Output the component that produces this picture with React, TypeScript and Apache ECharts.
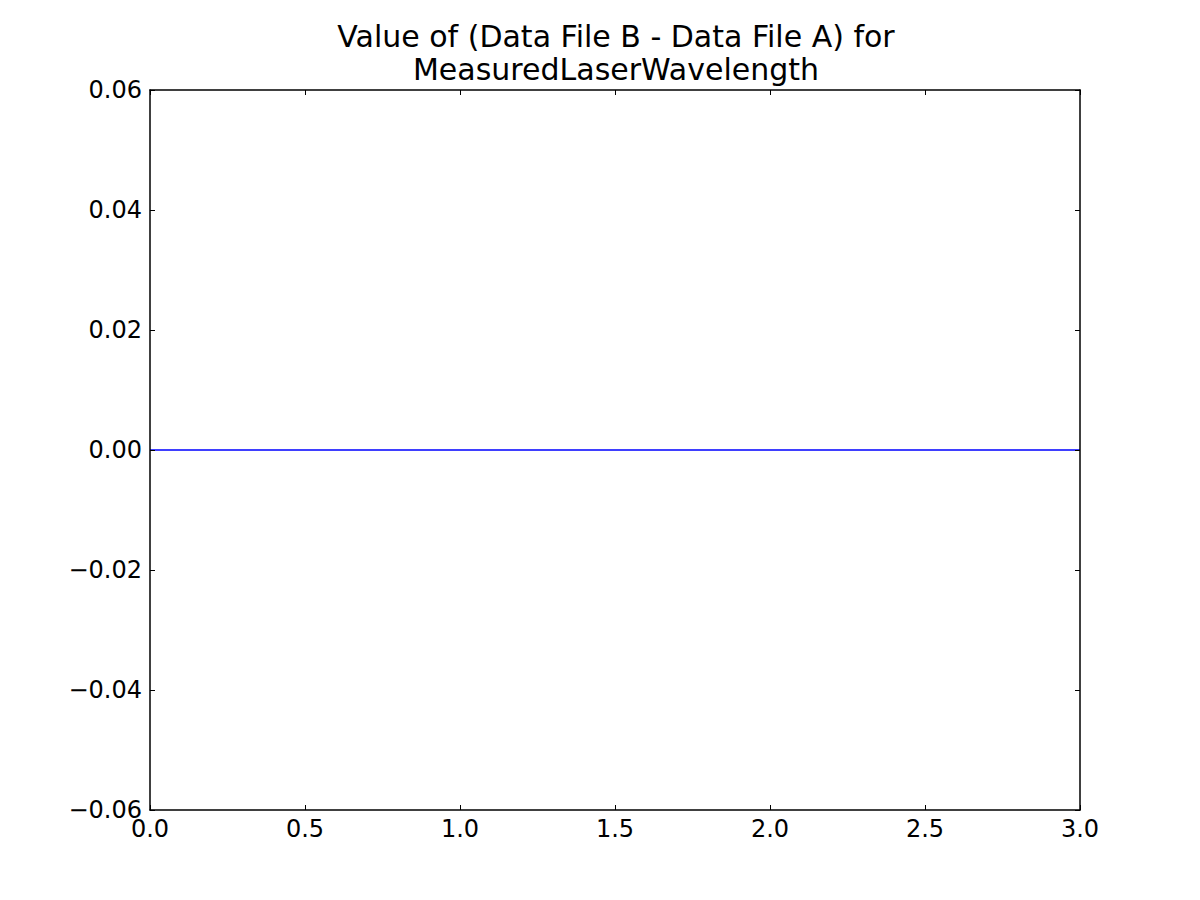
import React, { useEffect, useRef } from "react";
import * as echarts from "echarts";

const xValues = [0, 1, 2, 3];
const yValues = [0, 0, 0, 0];
const titleLines = ["Value of (Data File B - Data File A) for", "MeasuredLaserWavelength"];

const FONT = "DejaVu Sans";

const fmtY = (v: number) => v.toFixed(2).replace("-", "\u2212");
const fmtX = (v: number) => v.toFixed(1).replace("-", "\u2212");

export default function App() {
  const ref = useRef<HTMLDivElement>(null);
  useEffect(() => {
    if (!ref.current) return;
    const chart = echarts.init(ref.current, undefined, { renderer: "svg" });
    const axisLine = { show: true, onZero: false, lineStyle: { color: "#000", width: 1.5 } };
    const tick = { show: true, inside: true, length: 5, lineStyle: { color: "#000", width: 1 } };
    chart.setOption({
      animation: false,
      backgroundColor: "#fff",
      title: {
        text: titleLines.join("\n"),
        left: 611,
        textAlign: "center",
        top: 15,
        textStyle: { fontFamily: FONT, fontSize: 30, fontWeight: "normal", color: "#000", lineHeight: 33 },
      },
      grid: { left: 150, top: 90, width: 930, height: 720, containLabel: false },
      xAxis: [
        {
          type: "value",
          min: 0,
          max: 3,
          interval: 0.5,
          position: "bottom",
          z: 5,
          axisLine,
          axisTick: tick,
          splitLine: { show: false },
          axisLabel: { fontFamily: FONT, fontSize: 24, color: "#000", margin: 7, formatter: fmtX },
        },
        {
          type: "value",
          min: 0,
          max: 3,
          interval: 0.5,
          position: "top",
          z: 5,
          axisLine,
          axisTick: tick,
          splitLine: { show: false },
          axisLabel: { show: false },
        },
      ],
      yAxis: [
        {
          type: "value",
          min: -0.06,
          max: 0.06,
          interval: 0.02,
          position: "left",
          z: 5,
          axisLine,
          axisTick: tick,
          splitLine: { show: false },
          axisLabel: {
            fontFamily: FONT,
            fontSize: 24,
            color: "#000",
            margin: 8,
            formatter: fmtY,
          },
        },
        {
          type: "value",
          min: -0.06,
          max: 0.06,
          interval: 0.02,
          position: "right",
          z: 5,
          axisLine,
          axisTick: tick,
          splitLine: { show: false },
          axisLabel: { show: false },
        },
      ],
      series: [
        {
          type: "line",
          data: xValues.map((x, i) => [x, yValues[i]]),
          showSymbol: false,
          symbol: "none",
          lineStyle: { color: "#0000ff", width: 1.5 },
          z: 1,
        },
      ],
    });
    return () => chart.dispose();
  }, []);
  return (
    <div
      ref={ref}
      style={{ position: "fixed", left: 0, top: 0, width: 1200, height: 900, background: "#fff" }}
    />
  );
}
